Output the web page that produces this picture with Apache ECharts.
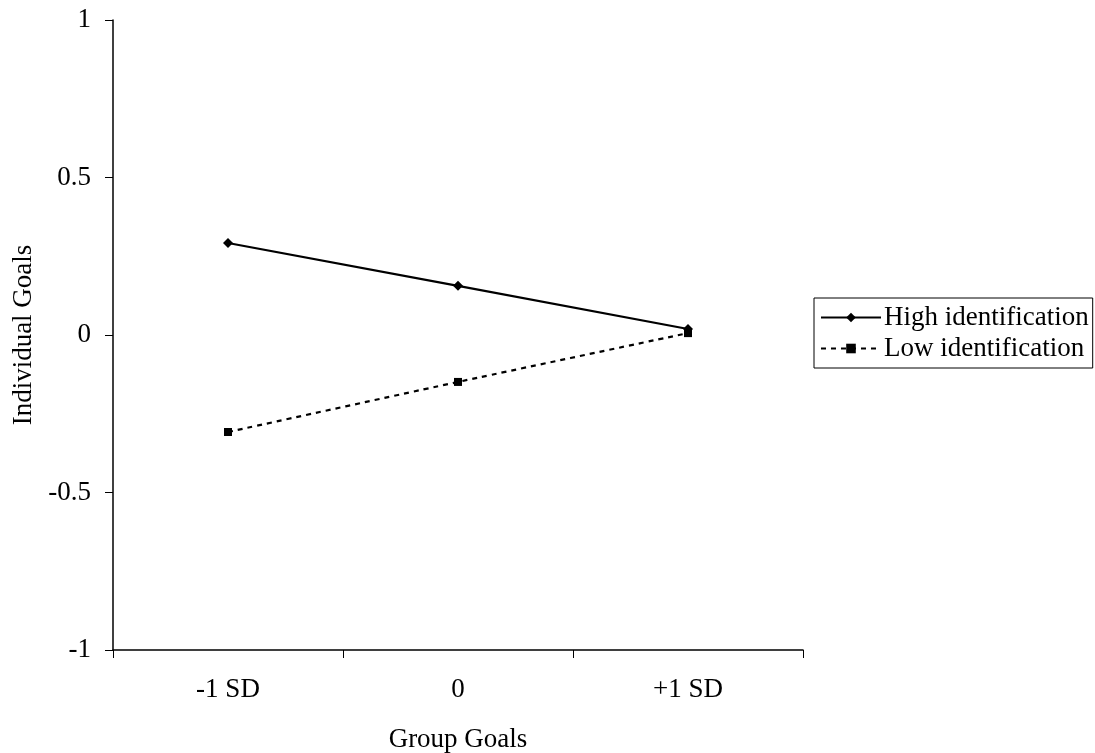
<!DOCTYPE html>
<html>
<head>
<meta charset="utf-8">
<script src="https://cdn.jsdelivr.net/npm/echarts@6/dist/echarts.min.js"></script>
<style>html,body{margin:0;padding:0;background:#fff;}#c{width:1095px;height:753px;}</style>
</head>
<body>
<div id="c"></div>
<script>
const categories = ['-1 SD', '0', '+1 SD'];
const highIdentification = [0.292, 0.156, 0.019];
const lowIdentification = [-0.308, -0.149, 0.006];
const seriesNames = ['High identification', 'Low identification'];

const chart = echarts.init(document.getElementById('c'), null, {renderer: 'canvas'});
const font = 'Liberation Serif';
const fs = 27;
chart.setOption({
  backgroundColor: '#fff',
  animation: false,
  textStyle: {fontFamily: font, color: '#000'},
  grid: {left: 113, right: 292, top: 20, bottom: 103, containLabel: false, outerBoundsMode: 'none'},
  legend: {
    orient: 'vertical',
    left: 814,
    top: 298,
    itemWidth: 60,
    itemHeight: 12,
    itemGap: 4,
    padding: [6, 4, 6, 6],
    borderColor: '#000',
    borderWidth: 1,
    borderRadius: 0,
    textStyle: {fontFamily: font, fontSize: fs, color: '#000', padding: [0, 0, 0, -2]},
    data: seriesNames
  },
  xAxis: {
    type: 'category',
    data: categories,
    boundaryGap: true,
    name: 'Group Goals',
    nameLocation: 'middle',
    nameGap: 76,
    nameTextStyle: {fontFamily: font, fontSize: fs, color: '#000'},
    axisLine: {onZero: false, lineStyle: {color: '#000', width: 1.5}},
    axisTick: {show: true, length: 8, lineStyle: {color: '#000', width: 1}},
    axisLabel: {fontFamily: font, fontSize: fs, color: '#000', margin: 26},
    splitLine: {show: false}
  },
  yAxis: {
    type: 'value',
    min: -1,
    max: 1,
    interval: 0.5,
    name: 'Individual Goals',
    nameLocation: 'middle',
    nameGap: 74,
    nameRotate: 90,
    nameTextStyle: {fontFamily: font, fontSize: fs, color: '#000'},
    axisLine: {show: true, lineStyle: {color: '#000', width: 1.5}},
    axisTick: {show: true, length: 8, lineStyle: {color: '#000', width: 1}},
    axisLabel: {fontFamily: font, fontSize: fs, color: '#000', margin: 22},
    splitLine: {show: false}
  },
  series: [
    {
      name: seriesNames[0],
      type: 'line',
      data: highIdentification,
      symbol: 'diamond',
      symbolSize: 10,
      lineStyle: {color: '#000', width: 2.2, type: 'solid'},
      itemStyle: {color: '#000'}
    },
    {
      name: seriesNames[1],
      type: 'line',
      data: lowIdentification,
      symbol: 'rect',
      symbolSize: 8,
      smooth: 0.15,
      lineStyle: {color: '#000', width: 2.2, type: [5, 5]},
      itemStyle: {color: '#000'}
    }
  ]
});
</script>
</body>
</html>
